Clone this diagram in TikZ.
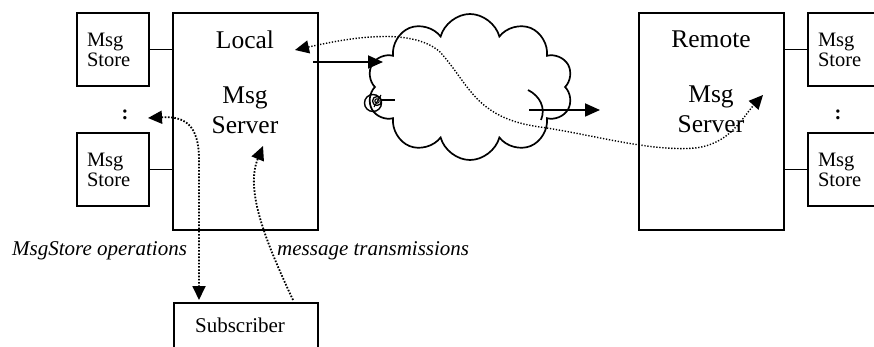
\documentclass[tikz,border=0pt]{standalone}
\usepackage{fontspec}
\setmainfont{Liberation Serif}
\usetikzlibrary{arrows.meta,shapes.symbols}
\tikzset{dtip/.tip={Triangle[length=14pt,width=13pt]}}
\begin{document}
\begin{tikzpicture}[x=1pt,y=-1pt,
 box/.style={draw,line width=1.8pt,inner sep=0pt},
 store/.style={box,minimum width=72pt,minimum height=73pt,text width=52pt,inner xsep=10pt,align=left,font=\fontsize{20.5}{20}\selectfont},
 server/.style={box,minimum width=145pt,minimum height=217pt},
 big/.style={font=\fontsize{25.5}{28}\selectfont,inner sep=0pt,anchor=base},
 lab/.style={font=\fontsize{21}{24}\selectfont\itshape,inner sep=0pt,anchor=base west},
 link/.style={line width=1.8pt},
 solidarr/.style={line width=1.8pt,-{Triangle[length=15pt,width=13pt]}},
 dots/.style={line width=1.8pt,dash pattern=on 1.6pt off 1.6pt},
 thindots/.style={line width=1.4pt,dash pattern=on 1.3pt off 1.7pt}
]
\clip (0,0) rectangle (874,347);
\fill[white] (0,0) rectangle (874,347);

% servers
\node[server] (local) at (245.5,121.5) {};
\node[server] (remote) at (711.5,121.5) {};
\node[big] (localt) at (245,49) {Local};
\node[big] (localm) at (245,104) {Msg};
\node[big] (locals) at (245,134) {Server};
\node[big] (remotet) at (711,48) {Remote};
\node[big] (remotem) at (711,103) {Msg};
\node[big] (remotes) at (711,133) {Server};

% stores
\node[store] (ls1) at (113,49.5) {Msg\\Store};
\node[store] (ls2) at (113,169.5) {Msg\\Store};
\node[store] (rs1) at (844,49.5) {Msg\\Store};
\node[store] (rs2) at (844,169.5) {Msg\\Store};
\node[font=\fontsize{20.5}{20}\selectfont,inner sep=0pt] (lcol) at (125,115) {\textbf{:}};
\node[font=\fontsize{20.5}{20}\selectfont,inner sep=0pt] (rcol) at (838,115) {\textbf{:}};
\draw[link] (ls1.east) -- (ls1.east -| local.west);
\draw[link] (ls2.east) -- (ls2.east -| local.west);
\draw[link] (rs1.west) -- (rs1.west -| remote.east);
\draw[link] (rs2.west) -- (rs2.west -| remote.east);

% subscriber
\node[box,minimum width=144pt,minimum height=80pt,anchor=north west] (sub) at (173,302) {};
\node[font=\fontsize{21}{24}\selectfont,inner sep=0pt,anchor=base] (subt) at (240,332) {Subscriber};

% labels
\node[lab] (opl) at (12,255) {MsgStore operations};
\node[lab] (trl) at (277,255) {message transmissions};

% cloud
\node[draw,cloud,cloud puffs=10,aspect=1.5,minimum width=206pt,minimum height=146pt,line width=1.7pt] (cloud) at (470,87) {};
\draw[line width=1.4pt] (373,103) circle[radius=8.5];
\draw[line width=1.3pt] (377,101) circle[radius=4.5];
\draw[line width=1.1pt] (377,101) circle[radius=2.2];
\draw[line width=1.1pt] (374,107) -- (381,95);
\draw[line width=1.3pt] (381,100) -- (395,100);
\draw[line width=1.7pt] (528,90) .. controls (540,96) and (546,108) .. (541,120);

% connectors
\coordinate (a1) at (295,50);
\coordinate (a2) at (763,95);
\draw[thindots,dtip-dtip] (a1) .. controls (340,40) and (410,25) .. (440,52)
  .. controls (470,85) and (475,118) .. (540,127)
  .. controls (590,134) and (650,152) .. (695,148)
  .. controls (730,144) and (742,118) .. (a2);

\coordinate (d1) at (313,62);
\coordinate (d2) at (383,62);
\draw[solidarr] (d1) -- (d2);
\coordinate (e1) at (529,110);
\coordinate (e2) at (600,110);
\draw[solidarr] (e1) -- (e2);

\coordinate (b1) at (148,118);
\coordinate (b2) at (199,300);
\draw[dots,dtip-dtip] (b1) .. controls (185,116) and (199,125) .. (199,160) -- (b2);

\coordinate (c1) at (293,300);
\coordinate (c2) at (263,146);
\draw[dots,-dtip] (c1) .. controls (265,240) and (245,190) .. (c2);
\end{tikzpicture}
\end{document}
